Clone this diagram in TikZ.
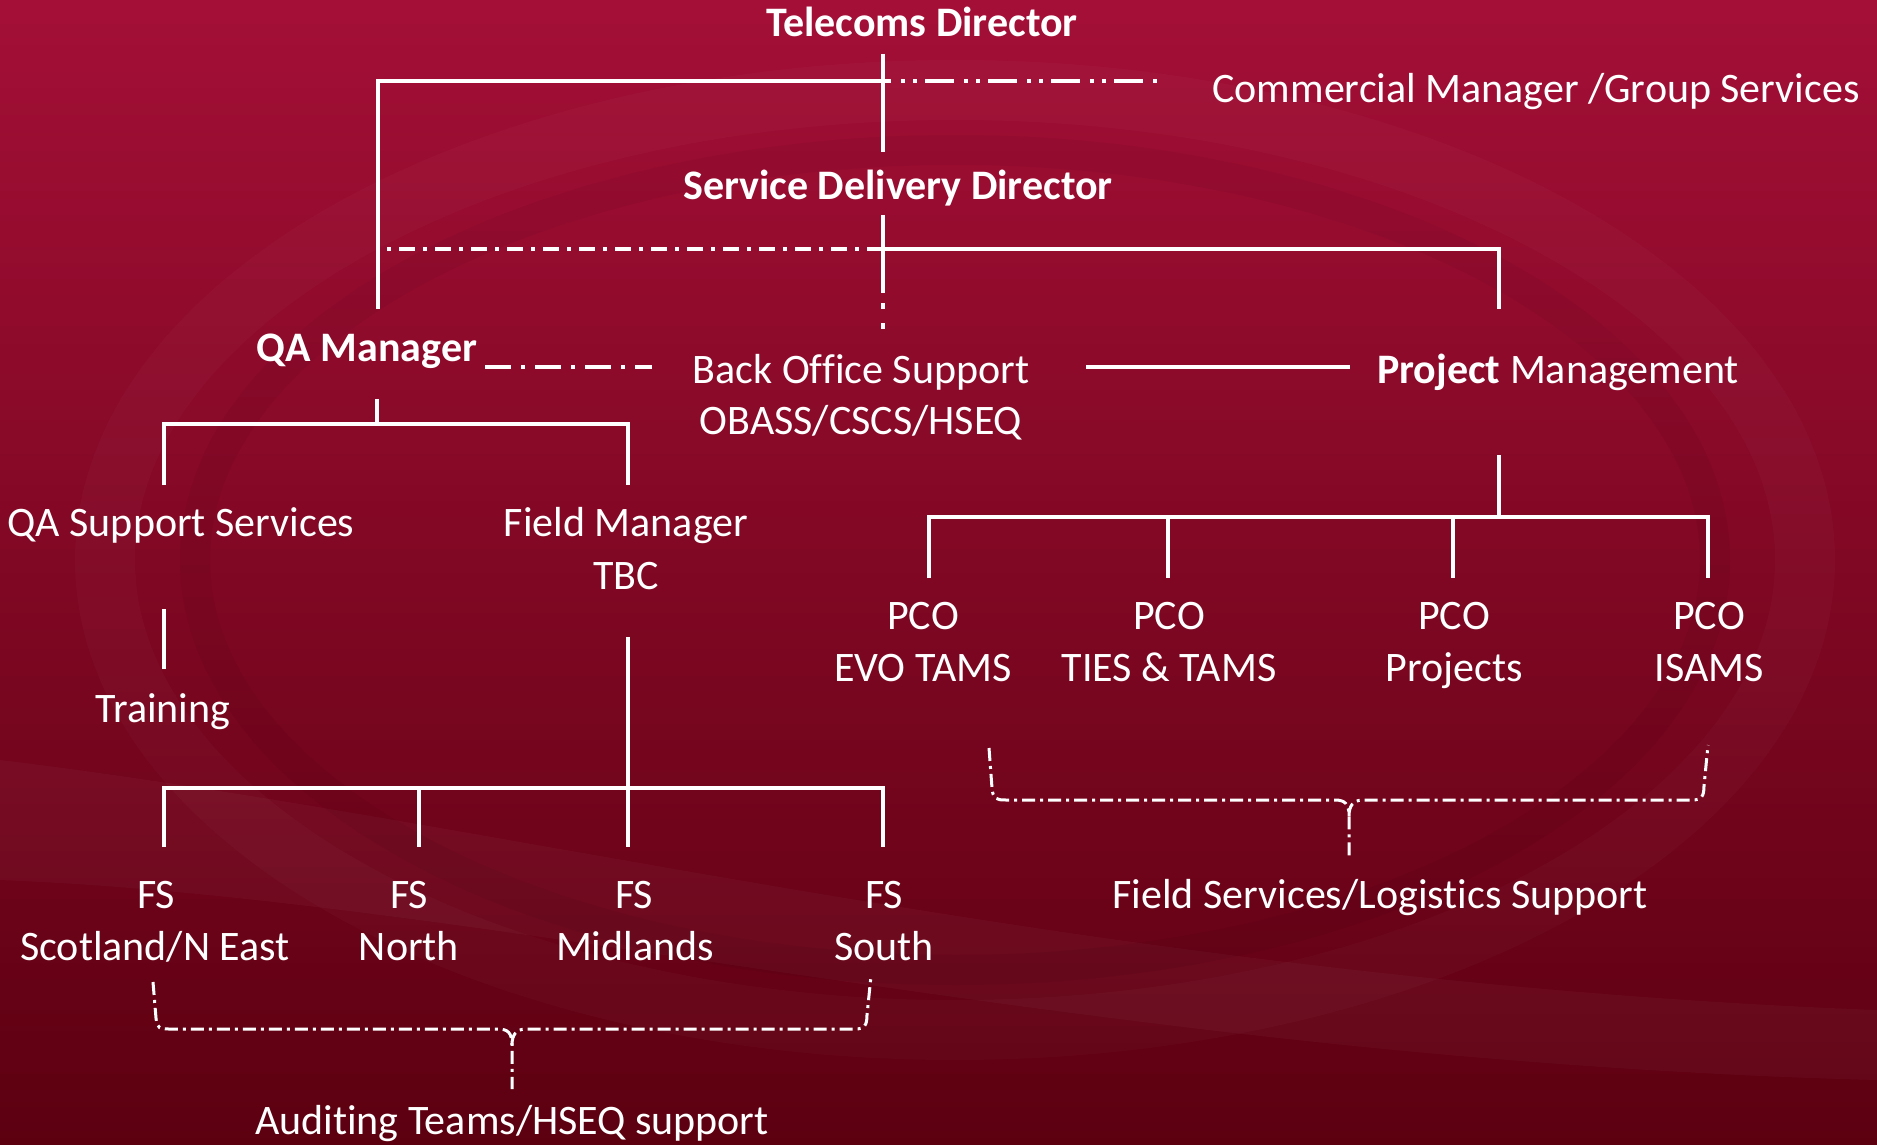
\documentclass[tikz,border=0pt]{standalone}
\usepackage{fontspec}
\setmainfont{Carlito}[Ligatures=NoCommon]
\definecolor{bgtop}{RGB}{164,15,55}
\definecolor{bgmid}{RGB}{136,0,38}
\definecolor{bgbot}{RGB}{92,0,16}
\begin{document}
\begin{tikzpicture}[x=1pt,y=-1pt,
  lbl/.style={text=white,font=\fontsize{42}{52}\selectfont,inner sep=0pt,anchor=base},
  blbl/.style={lbl,font=\fontsize{42}{52}\selectfont\bfseries},
  wire/.style={draw=white,line width=4pt},
  dashA/.style={draw=white,line width=4pt,dash pattern=on 8pt off 10pt on 4pt off 8pt on 4pt off 8pt on 21pt off 0pt},
  dashB/.style={draw=white,line width=3.5pt,dash pattern=on 16pt off 8pt on 4pt off 8pt},
  dashC/.style={draw=white,line width=3.5pt,dash pattern=on 26pt off 10pt on 4pt off 10pt},
  dotV/.style={draw=white,line width=4pt,dash pattern=on 6pt off 14pt},
  bracestyle/.style={draw=white,line width=3pt,dash pattern=on 13pt off 5pt on 3pt off 5pt}
]
% background
\useasboundingbox (0,0) rectangle (1877,1145);
\shade[top color=bgtop,middle color=bgmid,bottom color=bgbot] (0,0) rectangle (1877,1145);
\begin{scope}
\clip (0,0) rectangle (1877,1145);
\draw[white,opacity=0.025,line width=60pt] (955,560) ellipse [x radius=850, y radius=470];
\draw[black,opacity=0.04,line width=30pt] (955,560) ellipse [x radius=760, y radius=410];
\fill[white,opacity=0.03] (0,760) .. controls (500,820) and (1100,980) .. (1877,1010) -- (1877,1080) .. controls (1100,1060) and (500,900) .. (0,880) -- cycle;
\end{scope}

% nodes
\node[blbl] (td) at (922,37) {Telecoms Director};
\node[lbl] (cm) at (1536,103) {Commercial Manager /Group Services};
\node[blbl] (sdd) at (898,200) {Service Delivery Director};
\node[blbl] (qam) at (367,361) {QA Manager};
\node[lbl] (bos) at (861,383) {Back Office Support};
\node[lbl] (bos2) at (861,434) {OBASS/CSCS/HSEQ};
\node[lbl] (pm) at (1558,383) {\textbf{Project} Management};
\node[lbl] (qass) at (181,536) {QA Support Services};
\node[lbl] (fm) at (626,536) {Field Manager};
\node[lbl] (fm2) at (626,589) {TBC};
\node[lbl] (tr) at (163,722) {Training};
\node[lbl] (pco1) at (923,629) {PCO};
\node[lbl] (pco1b) at (923,681) {EVO TAMS};
\node[lbl] (pco2) at (1169,629) {PCO};
\node[lbl] (pco2b) at (1169,681) {TIES \& TAMS};
\node[lbl] (pco3) at (1454,629) {PCO};
\node[lbl] (pco3b) at (1454,681) {Projects};
\node[lbl] (pco4) at (1709,629) {PCO};
\node[lbl] (pco4b) at (1709,681) {ISAMS};
\node[lbl] (fs1) at (156,908) {FS};
\node[lbl] (fs1b) at (155,960) {Scotland/N East};
\node[lbl] (fs2) at (409,908) {FS};
\node[lbl] (fs2b) at (409,960) {North};
\node[lbl] (fs3) at (634,908) {FS};
\node[lbl] (fs3b) at (635,960) {Midlands};
\node[lbl] (fs4) at (884,908) {FS};
\node[lbl] (fs4b) at (884,960) {South};
\node[lbl] (fsl) at (1380,908) {Field Services/Logistics Support};
\node[lbl] (aud) at (512,1134) {Auditing Teams/HSEQ support};

% coordinates
\coordinate (tdS) at (883,54);
\coordinate (j1) at (883,81);
\coordinate (tdE) at (883,152);
\coordinate (cmW) at (1163,81);
\coordinate (qamN) at (378,309);
\coordinate (sddS) at (883,215);
\coordinate (j2) at (883,249);
\coordinate (j2b) at (883,293);
\coordinate (j2c) at (883,336);
\coordinate (qaL) at (378,249);
\coordinate (pmN) at (1499,309);
\coordinate (qamE) at (485,367);
\coordinate (bosW) at (652,367);
\coordinate (bosE) at (1086,367);
\coordinate (pmW) at (1350,367);
\coordinate (qamS) at (377,399);
\coordinate (j3) at (377,424);
\coordinate (qassN) at (164,485);
\coordinate (fmN) at (628,485);
\coordinate (qassS) at (164,609);
\coordinate (trN) at (164,669);
\coordinate (fmS) at (628,637);
\coordinate (j4) at (628,788);
\coordinate (fsbar1) at (164,788);
\coordinate (fsbar2) at (883,788);
\coordinate (pmS) at (1499,455);
\coordinate (j5) at (1499,517);

% connectors
\draw[wire] (tdS) -- (tdE);
\draw[wire] (j1) -| (qamN);
\draw[dashA] (j1) -- (cmW);
\draw[wire] (sddS) -- (j2b);
\draw[dotV] (j2b) ++(0,10) -- (j2c);
\draw[dashB] (j2) -- (qaL);
\draw[wire] (j2) -| (pmN);
\draw[dashC] (qamE) -- (bosW);
\draw[wire] (bosE) -- (pmW);
\draw[wire] (qamS) -- (j3);
\draw[wire] (qassN) |- (j3) -| (fmN);
\draw[wire] (qassS) -- (trN);
\draw[wire] (fmS) -- (j4);
\draw[wire] (fsbar1) ++(0,59) |- (fsbar2) -- ++(0,59);
\draw[wire] (419,788) -- (419,847);
\draw[wire] (j4) -- (628,847);
\draw[wire] (pmS) -- (j5);
\draw[wire] (929,578) |- (1708,517) -- (1708,578);
\draw[wire] (1168,517) -- (1168,578);
\draw[wire] (1453,517) -- (1453,578);

% braces
\draw[bracestyle] (153,982) -- (156,1018) .. controls (157,1029) and (160,1029) .. (170,1029) -- (498,1029) .. controls (508,1029) and (512,1033) .. (512,1045) -- (512,1089);
\draw[bracestyle] (512,1045) .. controls (512,1035) and (516,1029) .. (526,1029) -- (855,1029) .. controls (864,1029) and (867,1026) .. (867,1015) -- (871,976);
\draw[bracestyle] (989,748) -- (992,788) .. controls (993,799) and (996,800) .. (1006,800) -- (1335,800) .. controls (1345,800) and (1349,804) .. (1349,816) -- (1349,856);
\draw[bracestyle] (1349,816) .. controls (1349,806) and (1353,800) .. (1363,800) -- (1692,800) .. controls (1701,800) and (1704,797) .. (1704,786) -- (1708,745);
\end{tikzpicture}
\end{document}
